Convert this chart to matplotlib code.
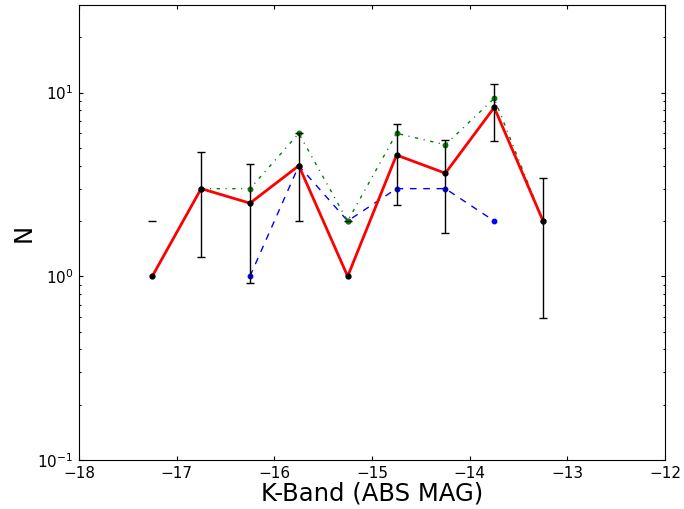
import matplotlib
matplotlib.use("Agg")
import matplotlib.pyplot as plt
import numpy as np

# magnitude bins (K-band absolute magnitude)
mag_all = [-17.25, -16.75, -16.25, -15.75, -15.25, -14.75, -14.25, -13.75, -13.25]
n_all = [1.0, 3.0, 2.5, 4.0, 1.0, 4.57, 3.64, 8.3, 2.0]
err_all = [1.0, 1.73, 1.58, 2.0, 1.0, 2.14, 1.91, 2.88, 1.41]

mag_green = [-16.75, -16.25, -15.75, -15.25, -14.75, -14.25, -13.75, -13.25]
n_green = [3.0, 3.0, 6.0, 2.0, 6.0, 5.2, 9.3, 2.0]

mag_blue = [-16.25, -15.75, -15.25, -14.75, -14.25, -13.75]
n_blue = [1.0, 4.0, 2.0, 3.0, 3.0, 2.0]

fig = plt.figure(figsize=(6.84, 5.09), dpi=100)
ax = fig.add_axes([0.1155, 0.0963, 0.857, 0.894])
ax.set_yscale("log", nonpositive="mask")
for sp in ax.spines.values():
    sp.set_linewidth(0.8)

ax.plot(mag_blue, n_blue, "b--", marker="o", ms=3.2, lw=1, dashes=(4.8, 4.8))
ax.plot(mag_green, n_green, "g-.", marker="o", ms=3.2, lw=1,
        dashes=(2.4, 4.0, 0.8, 4.0))
ax.plot(mag_all, n_all, "r-", lw=2)

# Poisson errors; lower limits at zero are masked on the log axis
err = np.array(err_all)
ax.errorbar(mag_all, n_all, yerr=[err, err],
            fmt="o", color="k", ms=3.5, ecolor="k", elinewidth=1,
            capsize=3, capthick=1)

ax.set_xlim(-18, -12)
ax.set_ylim(0.1, 30)
ax.tick_params(which="both", direction="in", top=True, right=True,
               labelsize=11, width=0.8)
ax.tick_params(which="major", length=3.2, pad=4)
ax.tick_params(which="minor", length=1.6)
ax.set_xlabel("K-Band (ABS MAG)", fontsize=17.5, labelpad=1)
ax.set_ylabel("N", fontsize=17.5, labelpad=1)

fig.savefig("out.png", dpi=100)
